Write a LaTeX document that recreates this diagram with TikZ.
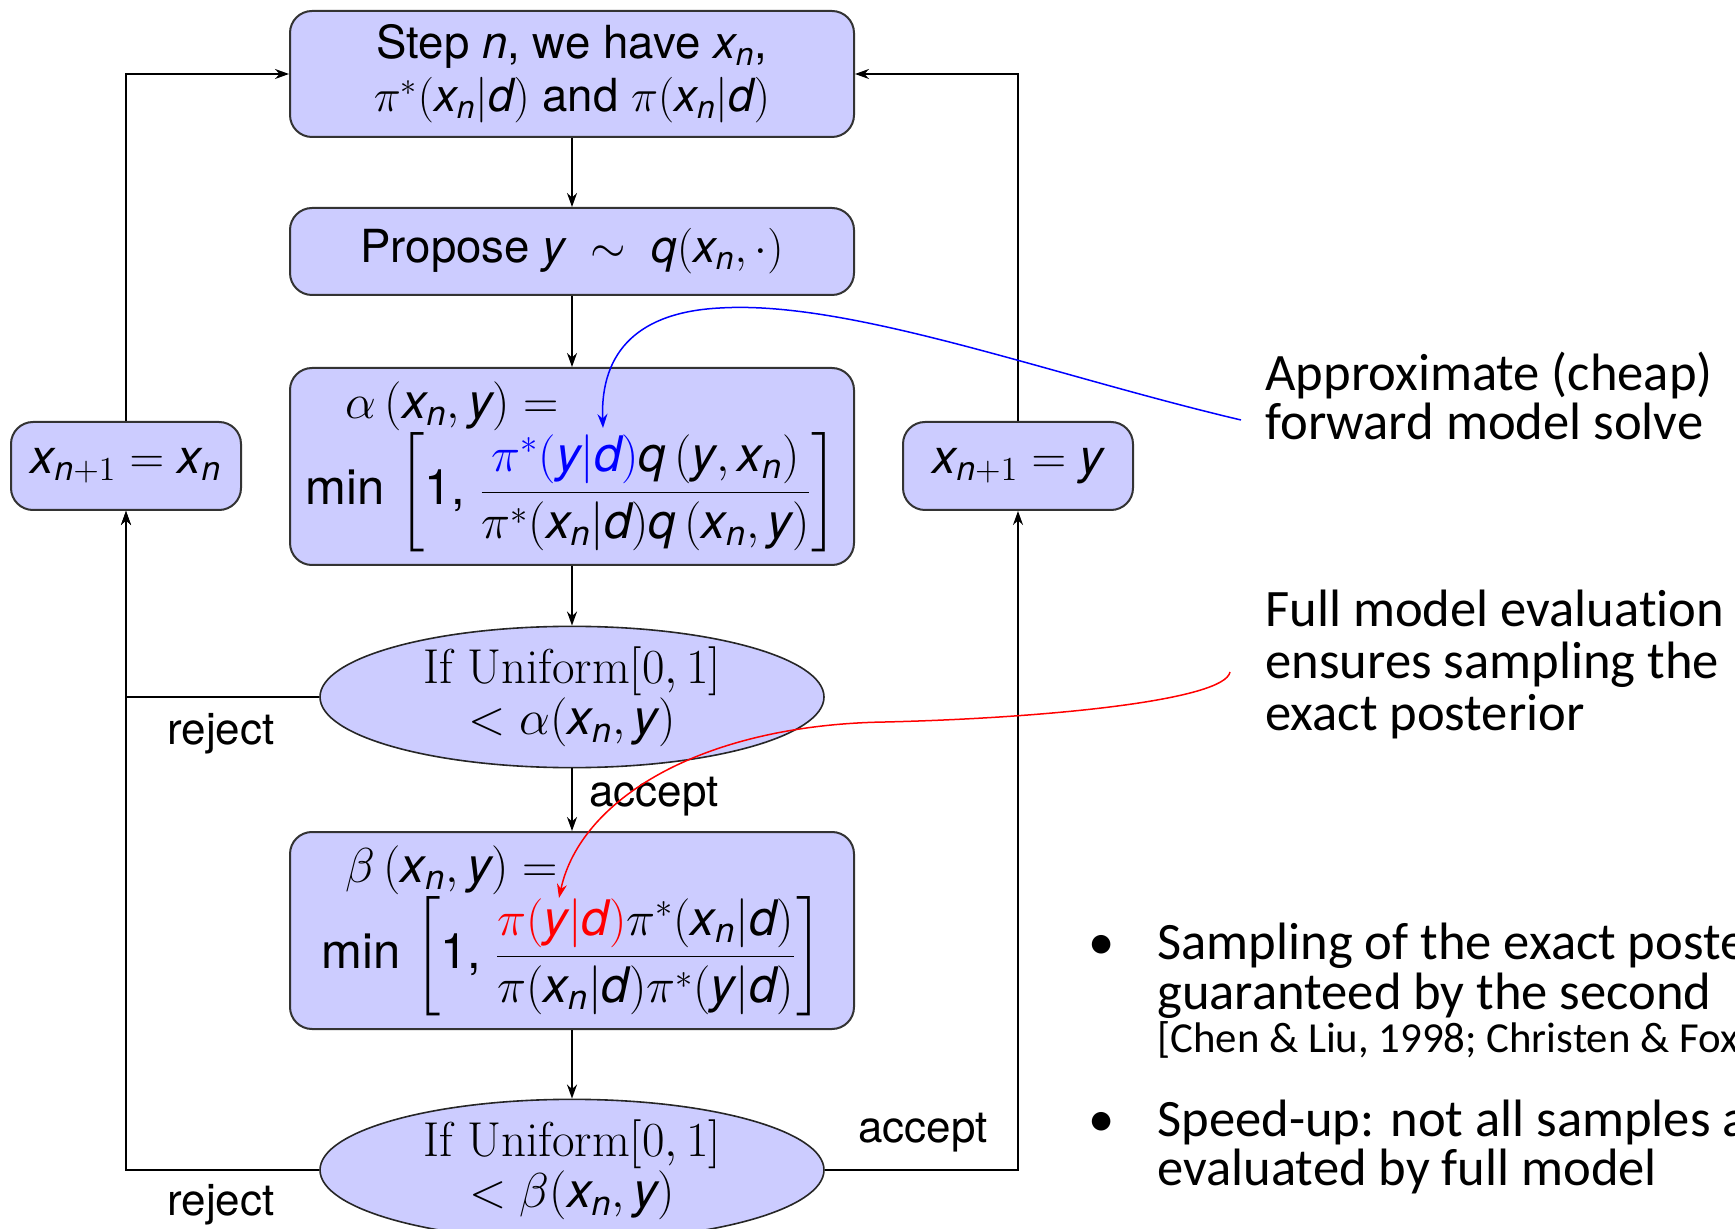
\RequirePackage{fix-cm}
\documentclass[tikz,border=0pt]{standalone}
\usepackage{amsmath}
\usepackage{fontspec}
\newfontfamily\heros{TeX Gyre Heros}
\newfontfamily\carlito[Ligatures=NoCommon]{Carlito}
\usetikzlibrary{shapes.geometric,arrows.meta}

% sans-serif italic variables used in the flow chart
\newcommand\vv[1]{\textit{#1}}
\newcommand\xn{\vv{x}_{\vv{n}}}
\newcommand\yv{\vv{y}}
\newcommand\dv{\vv{d}}
\newcommand\qv{\vv{q}}

\tikzset{
  box/.style={draw=black!80, line width=1pt, fill=blue!20, rounded corners=11pt,
    align=center, inner sep=0pt, minimum width=282pt,
    font=\heros\fontsize{22.8}{26.5}\selectfont},
  formbox/.style={box, minimum height=98.5pt, font=\heros\fontsize{24.5}{27}\selectfont},
  sidebox/.style={box, minimum width=115pt, minimum height=44pt,
    font=\heros\fontsize{24}{26}\selectfont},
  cond/.style={ellipse, draw=black!85, line width=0.8pt, fill=blue!20, inner sep=0pt,
    minimum width=252pt, minimum height=69pt, align=center,
    font=\fontsize{24.5}{25.5}\selectfont},
  flow/.style={draw=black, line width=0.9pt, -{Stealth[length=7pt,width=5pt]}},
  lbl/.style={font=\heros\fontsize{22}{26}\selectfont, inner sep=0pt, anchor=base},
  note/.style={font=\carlito\fontsize{26.3}{26}\selectfont, anchor=base west, inner sep=0pt},
  smallnote/.style={note, font=\carlito\fontsize{21.4}{22}\selectfont},
  hint/.style={line width=0.75pt, -{Stealth[length=7pt,width=5pt]}},
}

\begin{document}
\begin{tikzpicture}[x=0.5pt,y=-0.5pt]
\useasboundingbox (0,0) rectangle (1735,1229);
\clip (0,0) rectangle (1735,1229);

% main column
\node[box, minimum height=63pt] (step) at (572,74)
  {Step \vv{n}, we have $\xn$,\\ $\pi^*(\xn|\dv)$ and $\pi(\xn|\dv)$};
\node[box, minimum height=43.5pt] (prop) at (572,251.5)
  {Propose $\yv\ \sim\ \qv(\xn,\cdot)$};
\node[formbox] (alpha) at (572,466.5)
  {\begin{tabular}{@{}l@{}}\hspace*{20pt}$\alpha\left(\xn,\yv\right) =$\\[-1pt]
   min $\left[\text{1,}\ \dfrac{{\color{blue}\pi^*(\yv|\dv)}\qv\left(\yv,\xn\right)}{\pi^*(\xn|\dv)\qv\left(\xn,\yv\right)}\right]$\end{tabular}};
\node[cond] (test1) at (572,697)
  {If Uniform$[0,1]$\\ {\heros$<\alpha(\xn,\yv)$}};
\node[formbox] (beta) at (572,930.5)
  {\begin{tabular}{@{}l@{}}\hspace*{12pt}$\beta\left(\xn,\yv\right) =$\\[-1pt]
   min $\left[\text{1,}\ \dfrac{{\color{red}\pi(\yv|\dv)}\pi^*(\xn|\dv)}{\pi(\xn|\dv)\pi^*(\yv|\dv)}\right]$\end{tabular}};
\node[cond] (test2) at (572,1170)
  {If Uniform$[0,1]$\\ {\heros$<\beta(\xn,\yv)$}};

% side boxes
\node[sidebox] (keep) at (126,466) {$\vv{x}_{\vv{n}+1} = \xn$};
\node[sidebox] (move) at (1018,466) {$\vv{x}_{\vv{n}+1} = \yv$};

% connectors
\draw[flow] (step) -- (prop);
\draw[flow] (prop) -- (alpha);
\draw[flow] (alpha) -- (test1);
\draw[flow] (test1) -- (beta);
\draw[flow] (beta) -- (test2);
\draw[flow] (test1.west) -| (keep.south);
\draw[flow] (test2.west) -| (keep.south);
\draw[flow] (test2.east) -| (move.south);
\draw[flow] (keep.north) |- (step.west);
\draw[flow] (move.north) |- (step.east);

% branch labels
\node[lbl] (rej1) at (221,744) {reject};
\node[lbl] (rej2) at (221,1215) {reject};
\node[lbl] (acc1) at (654,806) {accept};
\node[lbl] (acc2) at (923,1142) {accept};

% annotations
\node[note] (apx1) at (1265,391) {Approximate (cheap)};
\node[note] (apx2) at (1265,440) {forward model solve};
\node[note] (full1) at (1265,627) {Full model evaluation};
\node[note] (full2) at (1265,679) {ensures sampling the};
\node[note] (full3) at (1265,730) {exact posterior};

\coordinate (blueStart) at (1241,420);
\coordinate (blueEnd) at (603,428);
\draw[hint, blue] (blueStart) .. controls (1050,375) and (850,300) .. (720,308)
  .. controls (640,312) and (600,350) .. (blueEnd);
\coordinate (redStart) at (1230,672);
\coordinate (redEnd) at (559,898);
\draw[hint, red] (redStart) .. controls (1225,700) and (1050,718) .. (885,722)
  .. controls (700,725) and (580,800) .. (redEnd);

% bullet list
\node[note] (dot1) at (1088,959) {•};
\node[note] (item1a) at (1157,959) {Sampling of the exact posterior};
\node[note] (item1b) at (1157,1009) {guaranteed by the second};
\node[smallnote] (item1c) at (1157,1052) {[Chen \& Liu, 1998; Christen \& Fox};
\node[note] (dot2) at (1088,1136) {•};
\node[note] (item2a) at (1157,1136) {Speed-up: not all samples are};
\node[note] (item2b) at (1157,1185) {evaluated by full model};
\end{tikzpicture}
\end{document}
